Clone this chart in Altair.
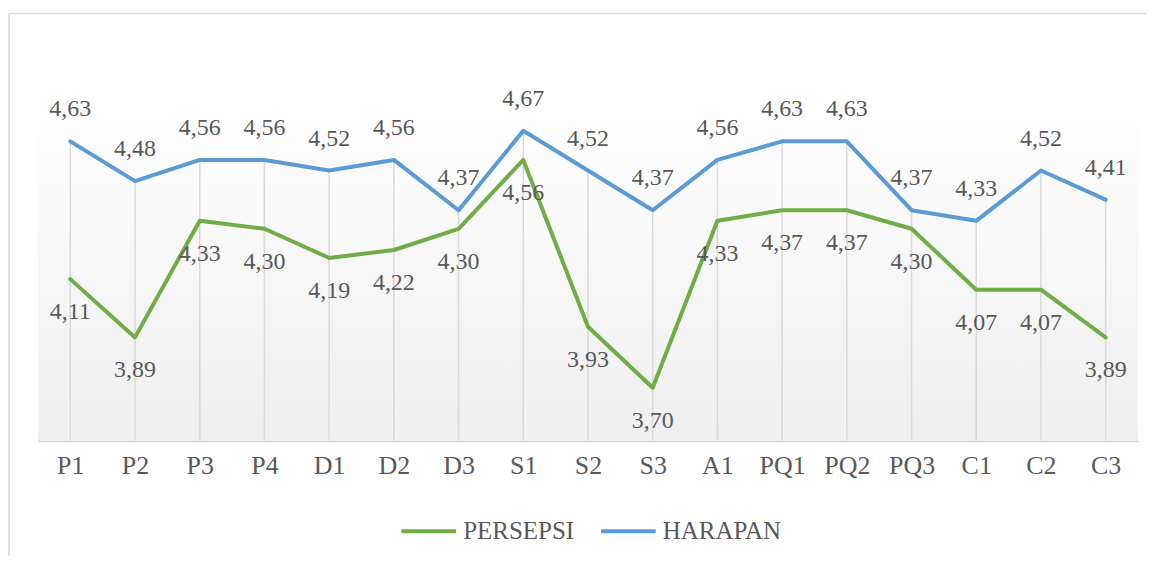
import altair as alt
import pandas as pd

categories = ["P1", "P2", "P3", "P4", "D1", "D2", "D3", "S1", "S2", "S3",
              "A1", "PQ1", "PQ2", "PQ3", "C1", "C2", "C3"]
persepsi = [4.11, 3.89, 4.33, 4.30, 4.19, 4.22, 4.30, 4.56, 3.93, 3.70,
            4.33, 4.37, 4.37, 4.30, 4.07, 4.07, 3.89]
harapan = [4.63, 4.48, 4.56, 4.56, 4.52, 4.56, 4.37, 4.67, 4.52, 4.37,
           4.56, 4.63, 4.63, 4.37, 4.33, 4.52, 4.41]
series_names = ["PERSEPSI", "HARAPAN"]
series_colors = ["#70AD47", "#5B9BD5"]

W, H = 1102, 345
FONT = "Liberation Serif"
TXT = "#595959"
GRID = "#d9d9d9"

rows = []
for c, p, h in zip(categories, persepsi, harapan):
    rows.append({"cat": c, "series": "PERSEPSI", "value": p})
    rows.append({"cat": c, "series": "HARAPAN", "value": h})
df = pd.DataFrame(rows)
one = pd.DataFrame({"a": [0]})

xenc = alt.X("cat:N", sort=categories,
             scale=alt.Scale(type="point", padding=0.5),
             axis=alt.Axis(title=None, labelAngle=0, ticks=False,
                           domain=True, domainColor=GRID, domainWidth=2,
                           labelFont=FONT, labelFontSize=26, labelColor=TXT,
                           labelPadding=12, grid=False))
yscale = alt.Scale(domain=[3.5, 4.8], nice=False, zero=False)
yenc = alt.Y("value:Q", scale=yscale, axis=None)

bg = alt.Chart(one).mark_rect(
    fill=alt.Gradient(gradient="linear",
                      stops=[alt.GradientStop(color="#ffffff", offset=0),
                             alt.GradientStop(color="#efefef", offset=1)],
                      x1=0, x2=0, y1=0, y2=1)
).encode(x=alt.value(0), x2=alt.value(W), y=alt.value(0), y2=alt.value(H))

border_left = alt.Chart(one).mark_rule(color=GRID, strokeWidth=1.5).encode(
    x=alt.value(-29), y=alt.value(-83), y2=alt.value(H + 115))
border_top = alt.Chart(one).mark_rule(color=GRID, strokeWidth=1.5).encode(
    x=alt.value(-29), x2=alt.value(W + 9), y=alt.value(-83))

base = alt.Chart(df)

drops = base.transform_filter(alt.datum.series == "HARAPAN").mark_rule(
    color=GRID, strokeWidth=1.5).encode(x=xenc, y=yenc, y2=alt.value(H))

lines = base.mark_line(strokeWidth=4, strokeJoin="round", strokeCap="round").encode(
    x=xenc, y=yenc,
    color=alt.Color("series:N",
                    scale=alt.Scale(domain=series_names, range=series_colors),
                    sort=series_names,
                    legend=alt.Legend(title=None, orient="none", direction="horizontal",
                                      legendX=362, legendY=406,
                                      symbolType="stroke", symbolSize=3000,
                                      symbolStrokeWidth=4, labelFont=FONT,
                                      labelFontSize=25, labelColor=TXT,
                                      columnPadding=18, labelOffset=5)),
    detail="series:N",
)

label_expr = "replace(format(datum.value, '.2f'), '.', ',')"
lab_p = base.transform_filter(alt.datum.series == "PERSEPSI").transform_calculate(
    lbl=label_expr).mark_text(font=FONT, fontSize=24, color=TXT, dy=33,
                              baseline="middle").encode(x=xenc, y=yenc, text="lbl:N")
lab_h = base.transform_filter(alt.datum.series == "HARAPAN").transform_calculate(
    lbl=label_expr).mark_text(font=FONT, fontSize=24, color=TXT, dy=-32,
                              baseline="middle").encode(x=xenc, y=yenc, text="lbl:N")

chart = alt.layer(bg, border_left, border_top, drops, lines, lab_p, lab_h).properties(
    width=W, height=H,
    padding={"left": 0, "top": 4, "right": 0, "bottom": 0},
    background="white",
).configure_view(stroke=None)

chart.save("out.html", embed_options={"renderer": "svg", "actions": False})
